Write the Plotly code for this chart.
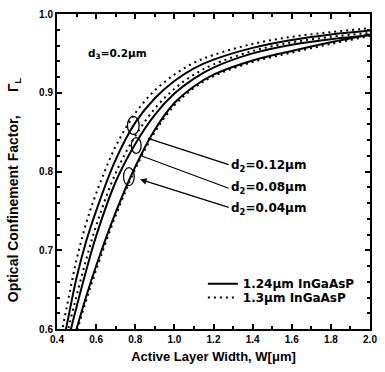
import plotly.graph_objects as go

# Active layer width W (um)
width_um = [0.40, 0.45, 0.50, 0.55, 0.60, 0.70, 0.80, 0.90, 1.00, 1.10, 1.20, 1.40, 1.60, 1.80, 2.00]

# Confinement factor, 1.24 um InGaAsP guide layers (solid)
gamma_124_d012 = [0.545, 0.605, 0.665, 0.712, 0.750, 0.815, 0.862, 0.893, 0.915, 0.931, 0.942, 0.957, 0.967, 0.974, 0.979]
gamma_124_d008 = [0.520, 0.578, 0.628, 0.675, 0.718, 0.787, 0.835, 0.872, 0.899, 0.918, 0.932, 0.950, 0.961, 0.968, 0.973]
gamma_124_d004 = [0.500, 0.553, 0.600, 0.642, 0.680, 0.748, 0.806, 0.853, 0.887, 0.908, 0.923, 0.941, 0.953, 0.964, 0.974]

# Confinement factor, 1.3 um InGaAsP guide layers (dotted)
gamma_130_d012 = [0.565, 0.628, 0.688, 0.735, 0.772, 0.832, 0.874, 0.903, 0.923, 0.938, 0.948, 0.962, 0.971, 0.977, 0.982]
gamma_130_d008 = [0.534, 0.592, 0.642, 0.689, 0.731, 0.798, 0.845, 0.880, 0.905, 0.923, 0.936, 0.953, 0.964, 0.971, 0.976]
gamma_130_d004 = [0.495, 0.548, 0.595, 0.637, 0.675, 0.744, 0.803, 0.850, 0.884, 0.906, 0.921, 0.939, 0.951, 0.962, 0.972]

d2_labels = ["d<sub>2</sub>=0.12μm", "d<sub>2</sub>=0.08μm", "d<sub>2</sub>=0.04μm"]
legend_names = ["1.24μm InGaAsP", "1.3μm InGaAsP"]

FONT = "Liberation Sans, Arial, sans-serif"
WIDE = "DejaVu Sans, sans-serif"

fig = go.Figure()

solid_sets = [gamma_124_d012, gamma_124_d008, gamma_124_d004]
dotted_sets = [gamma_130_d012, gamma_130_d008, gamma_130_d004]

for i, g in enumerate(solid_sets):
    fig.add_trace(go.Scatter(
        x=width_um, y=g, mode="lines", name=legend_names[0],
        showlegend=(i == 0), legend="legend",
        line=dict(color="black", width=2, shape="spline"),
    ))
for i, g in enumerate(dotted_sets):
    fig.add_trace(go.Scatter(
        x=width_um, y=g, mode="lines", name=legend_names[1],
        showlegend=(i == 0), legend="legend2",
        line=dict(color="black", width=2, dash="2px,4px", shape="spline"),
    ))

# Ellipses marking the curve pairs
ellipses = [
    (0.76, 0.82, 0.847, 0.870),
    (0.78, 0.83, 0.823, 0.843),
    (0.74, 0.795, 0.782, 0.805),
]
for x0, x1, y0, y1 in ellipses:
    fig.add_shape(type="circle", xref="x", yref="y", x0=x0, x1=x1, y0=y0, y1=y1,
                  line=dict(color="black", width=1.3))

# Leader lines from ellipses to the d2 labels
leaders = [
    ((0.865, 0.842), (1.285, 0.808), 0),
    ((0.830, 0.820), (1.285, 0.778), 0),
    ((0.825, 0.790), (1.285, 0.754), 1),
]
for (xs, ys), (xe, ye), head in leaders:
    fig.add_annotation(x=xs, y=ys, ax=xe, ay=ye, xref="x", yref="y", axref="x", ayref="y",
                       showarrow=True, arrowhead=2 if head else 0, arrowsize=1,
                       arrowwidth=1.3, arrowcolor="black", text="")

label_y = [0.807, 0.779, 0.752]
for txt, yv in zip(d2_labels, label_y):
    fig.add_annotation(x=1.28, y=yv, xref="x", yref="y", text=txt, showarrow=False,
                       xanchor="left", yanchor="middle",
                       font=dict(family=WIDE, size=12, color="black", weight="bold"))

fig.add_annotation(x=0.55, y=0.949, xref="x", yref="y", text="d<sub>3</sub>=0.2μm",
                   showarrow=False, xanchor="left", yanchor="middle",
                   font=dict(family=WIDE, size=10.5, color="black", weight="bold"))

# Rotated y-axis title
fig.add_annotation(x=-0.135, y=0.44, xref="paper", yref="paper",
                   text="Optical Confinement Factor,\u00a0\u00a0\u00a0\u00a0\u00a0\u00a0Γ<sub>L</sub>",
                   textangle=-90, showarrow=False, xanchor="center", yanchor="middle",
                   font=dict(family=FONT, size=14, color="black", weight="bold"))

axis_common = dict(
    showline=True, linewidth=2, linecolor="black", mirror="ticks",
    ticks="inside", ticklen=5, tickwidth=2, tickcolor="black",
    showgrid=False, zeroline=False,
    tickfont=dict(family=FONT, size=10, color="black", weight="bold"),
)

fig.update_xaxes(
    range=[0.4, 2.0], dtick=0.2, tick0=0.4, tickformat=".1f",
    minor=dict(dtick=0.1, ticks="inside", ticklen=3, tickwidth=1.5, tickcolor="black"),
    title=dict(text="Active Layer Width, W[μm]", standoff=8,
               font=dict(family=FONT, size=13, color="black", weight="bold")),
    **axis_common,
)
fig.update_yaxes(
    range=[0.6, 1.0], dtick=0.1, tick0=0.6, tickformat=".1f",
    minor=dict(dtick=0.02, ticks="inside", ticklen=3, tickwidth=1.5, tickcolor="black"),
    **axis_common,
)

legend_style = dict(xanchor="left", yanchor="top", bgcolor="rgba(0,0,0,0)", borderwidth=0,
                    font=dict(family=WIDE, size=12, color="black", weight="bold"),
                    itemwidth=30)

fig.update_layout(
    width=385, height=372,
    margin=dict(l=57, r=8, t=13, b=43),
    paper_bgcolor="white", plot_bgcolor="white",
    showlegend=True,
    legend=dict(x=0.466, y=0.19, **legend_style),
    legend2=dict(x=0.466, y=0.146, **legend_style),
)

fig.write_html("out.html")
